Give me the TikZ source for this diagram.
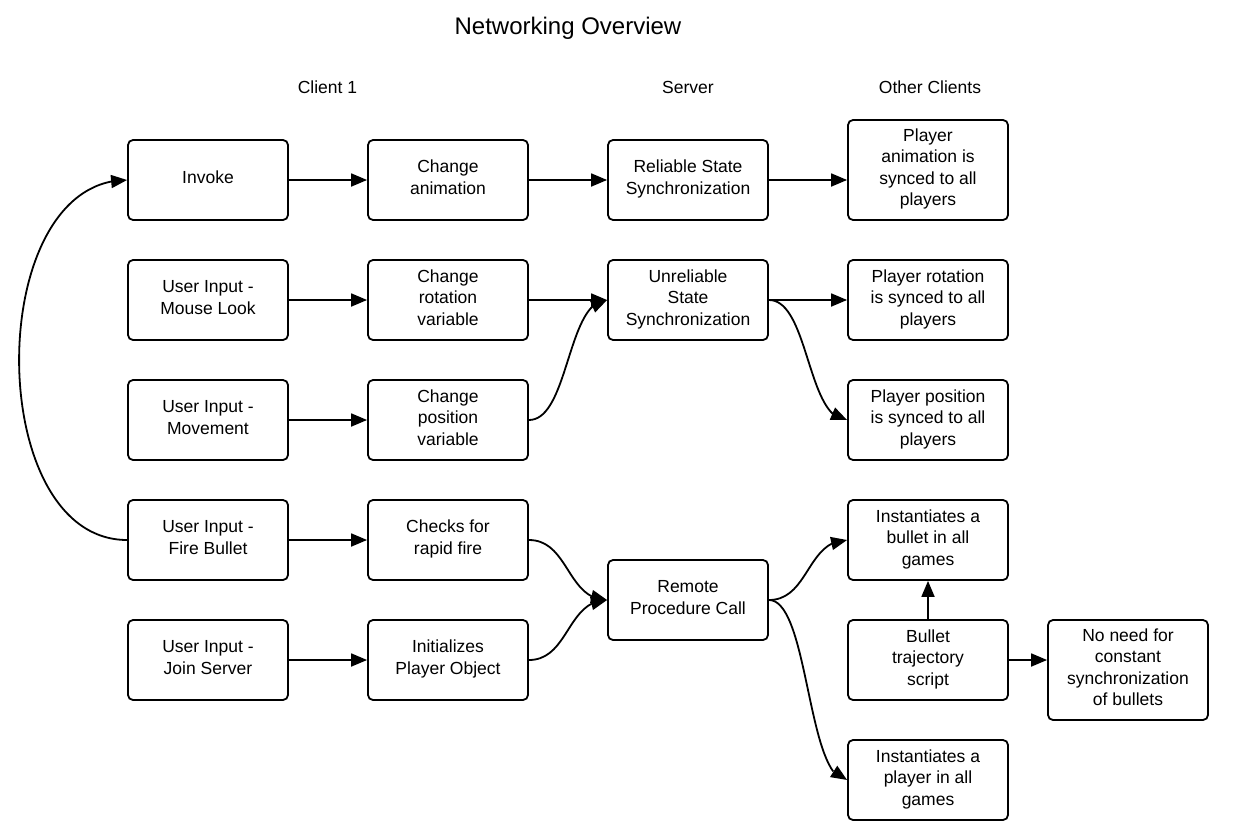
\documentclass[tikz,border=0pt]{standalone}
\usepackage{fontspec}
\setmainfont{Liberation Sans}
\usetikzlibrary{arrows.meta,bending}
\newcommand\sr{\rule[-7pt]{0pt}{21pt}}
\tikzset{
  box/.style={draw, line width=1.8pt, rounded corners=5pt, minimum width=160pt, minimum height=80pt, align=center, inner sep=2pt, font=\fontsize{17.5}{21.5}\selectfont},
  tallbox/.style={box, minimum height=100pt},
  header/.style={font=\fontsize{17.5}{21.5}\selectfont},
  arr/.style={line width=1.8pt, -{Triangle[length=16pt,width=13pt]}}
}
\begin{document}
\begin{tikzpicture}[x=1pt,y=-1pt]
\useasboundingbox (0,0) rectangle (1244,840);
\fill[white] (0,0) rectangle (1244,840);
\node[font=\fontsize{24}{28}\selectfont] (title) at (568,28) {Networking Overview};
\node[header] (h1) at (327.5,87) {Client 1};
\node[header] (h2) at (688,87) {Server};
\node[header] (h3) at (930,87) {Other Clients};
% column 1
\node[box] (invoke) at (208,180) {\sr Invoke};
\node[box] (mouse) at (208,300) {\sr User Input -\\\sr Mouse Look};
\node[box] (move) at (208,420) {\sr User Input -\\\sr Movement};
\node[box] (fire) at (208,540) {\sr User Input -\\\sr Fire Bullet};
\node[box] (join) at (208,660) {\sr User Input -\\\sr Join Server};
% column 2
\node[box] (chanim) at (448,180) {\sr Change\\\sr animation};
\node[box] (chrot) at (448,300) {\sr Change\\\sr rotation\\\sr variable};
\node[box] (chpos) at (448,420) {\sr Change\\\sr position\\\sr variable};
\node[box] (rapid) at (448,540) {\sr Checks for\\\sr rapid fire};
\node[box] (initp) at (448,660) {\sr Initializes\\\sr Player Object};
% column 3
\node[box] (reliable) at (688,180) {\sr Reliable State\\\sr Synchronization};
\node[box] (unrel) at (688,300) {\sr Unreliable\\\sr State\\\sr Synchronization};
\node[box] (rpc) at (688,600) {\sr Remote\\\sr Procedure Call};
% column 4
\node[tallbox] (panim) at (928,170) {\sr Player\\\sr animation is\\\sr synced to all\\\sr players};
\node[box] (prot) at (928,300) {\sr Player rotation\\\sr is synced to all\\\sr players};
\node[box] (ppos) at (928,420) {\sr Player position\\\sr is synced to all\\\sr players};
\node[box] (ibullet) at (928,540) {\sr Instantiates a\\\sr bullet in all\\\sr games};
\node[box] (traj) at (928,660) {\sr Bullet\\\sr trajectory\\\sr script};
\node[box] (iplayer) at (928,780) {\sr Instantiates a\\\sr player in all\\\sr games};
% column 5
\node[tallbox] (noneed) at (1128,670) {\sr No need for\\\sr constant\\\sr synchronization\\\sr of bullets};
% connectors
\draw[arr] (invoke.east) -- (chanim.west);
\draw[arr] (chanim.east) -- (reliable.west);
\draw[arr] (reliable.east) -- (panim.west |- reliable.east);
\draw[arr] (mouse.east) -- (chrot.west);
\draw[arr] (chrot.east) -- (unrel.west);
\draw[arr] (move.east) -- (chpos.west);
\draw[arr] (chpos.east) .. controls +(40,0) and +(-40,0) .. (unrel.west);
\draw[arr] (unrel.east) -- (prot.west);
\draw[arr] (unrel.east) .. controls +(40,0) and +(-40,0) .. (ppos.west);
\draw[arr] (fire.east) -- (rapid.west);
\draw[arr] (fire.west) .. controls +(-144,0) and +(-144,0) .. (invoke.west);
\draw[arr] (join.east) -- (initp.west);
\draw[arr] (rapid.east) .. controls +(40,0) and +(-40,0) .. (rpc.west);
\draw[arr] (initp.east) .. controls +(40,0) and +(-40,0) .. (rpc.west);
\draw[arr] (rpc.east) .. controls +(40,0) and +(-40,0) .. (ibullet.west);
\draw[arr] (rpc.east) .. controls +(40,0) and +(-40,0) .. (iplayer.west);
\draw[arr] (traj.north) -- (ibullet.south);
\draw[arr] (traj.east) -- (noneed.west |- traj.east);
\end{tikzpicture}
\end{document}
